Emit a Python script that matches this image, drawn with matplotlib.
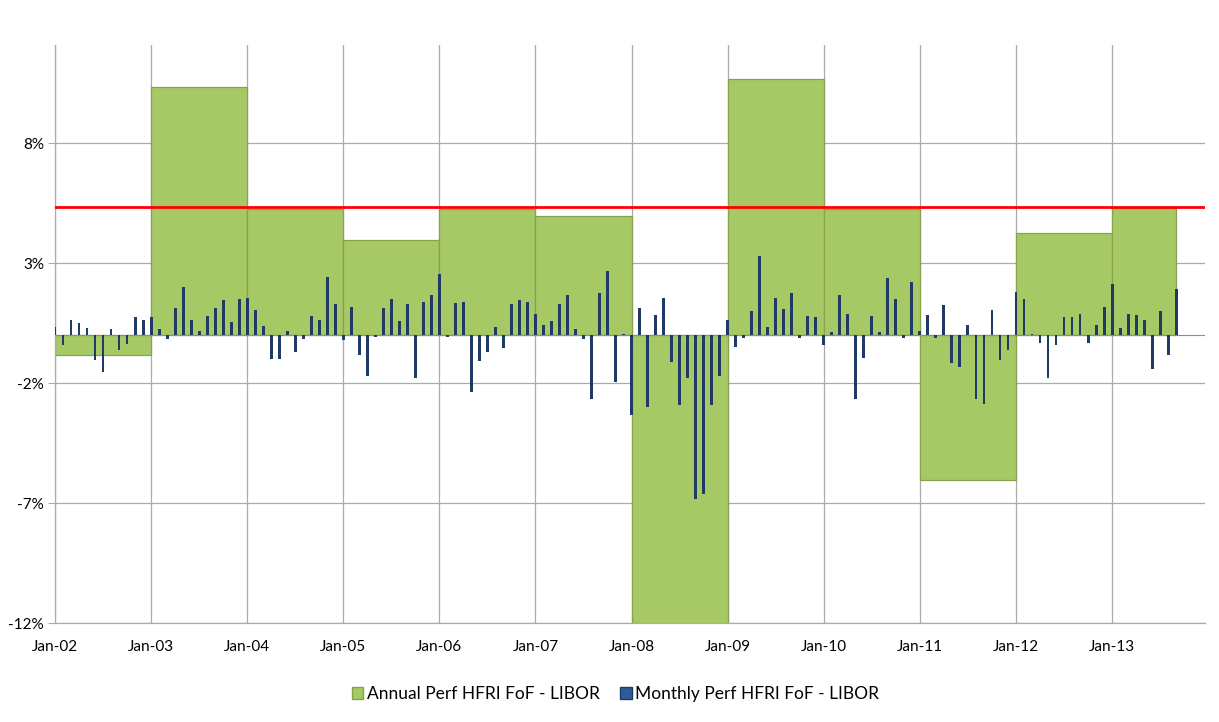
import matplotlib

matplotlib.use('Agg')
import matplotlib.pyplot as plt
import numpy as np
from matplotlib.patches import Patch

# annual excess return vs LIBOR (%), one block per calendar year
annual_years = [2002, 2003, 2004, 2005, 2006, 2007, 2008, 2009, 2010, 2011, 2012, 2013]
annual_perf = [-0.83, 10.33, 5.25, 3.96, 5.25, 4.96, -15.0, 10.7, 5.25, -6.04, 4.25, 5.3]

# monthly excess return vs LIBOR (%), Jan-02 .. Sep-13
monthly_perf = [
    0.33, -0.42, 0.65, 0.51, 0.32, -1.04, -1.54, 0.24, -0.63, -0.35, 0.75, 0.63,      # 2002
    0.76, 0.26, -0.15, 1.14, 2.03, 0.63, 0.17, 0.78, 1.14, 1.47, 0.57, 1.51,          # 2003
    1.54, 1.04, 0.40, -0.99, -1.01, 0.17, -0.71, -0.15, 0.78, 0.65, 2.42, 1.31,       # 2004
    -0.21, 1.18, -0.81, -1.71, -0.07, 1.14, 1.50, 0.58, 1.28, -1.79, 1.38, 1.67,      # 2005
    2.56, -0.07, 1.35, 1.40, -2.36, -1.08, -0.69, 0.35, -0.53, 1.28, 1.47, 1.38,      # 2006
    0.89, 0.42, 0.61, 1.31, 1.69, 0.26, -0.14, -2.65, 1.74, 2.68, -1.94, 0.07,        # 2007
    -3.33, 1.14, -3.00, 0.83, 1.56, -1.11, -2.90, -1.79, -6.82, -6.61, -2.93, -1.71,  # 2008
    0.65, -0.50, -0.10, 1.00, 3.29, 0.35, 1.53, 1.10, 1.76, -0.13, 0.81, 0.76,        # 2009
    -0.42, 0.15, 1.69, 0.90, -2.64, -0.94, 0.78, 0.13, 2.38, 1.50, -0.11, 2.22,       # 2010
    0.17, 0.83, -0.11, 1.24, -1.15, -1.33, 0.42, -2.68, -2.85, 1.07, -1.04, -0.61,    # 2011
    1.79, 1.50, 0.06, -0.32, -1.79, -0.42, 0.76, 0.74, 0.88, -0.32, 0.42, 1.19,       # 2012
    2.15, 0.28, 0.90, 0.83, 0.65, -1.43, 1.00, -0.82, 1.93,                           # 2013
]
hurdle = 5.33
y_ticks = [-12, -7, -2, 3, 8]
tick_labels = [f'Jan-{year % 100:02d}' for year in annual_years]

green = '#A6C865'
navy = '#1F3A63'
grid_color = '#ABABAB'

plt.rcParams['font.family'] = ['Lato', 'DejaVu Sans']

month_index = np.arange(len(monthly_perf))
last_month = month_index[-1]
year_start = np.array([(year - annual_years[0]) * 12 for year in annual_years])
year_end = np.minimum(year_start + 12, last_month)

fig = plt.figure(figsize=(12.19, 7.22), dpi=100)
axis = fig.add_axes([0.0451, 0.1371, 0.9434, 0.8006])

axis.bar(year_start, annual_perf, width=year_end - year_start, align='edge',
         color=green, edgecolor='#86A34C', linewidth=0.9, zorder=2)
axis.bar(month_index, monthly_perf, width=0.36, color=navy, zorder=3)
axis.axhline(0, color='#8C8C8C', linewidth=0.8, zorder=2.5)
axis.axhline(hurdle, color='#FF0000', linewidth=2, zorder=4)

axis.set_xlim(0, 143.6)
axis.set_ylim(-12, 12.1)
axis.set_yticks(y_ticks)
axis.set_yticklabels([f'{tick}%' for tick in y_ticks])
axis.set_xticks(year_start)
axis.set_xticklabels(tick_labels)
axis.grid(True, color=grid_color, linewidth=0.9, zorder=0)
axis.set_axisbelow(True)
for side in ('top', 'right'):
    axis.spines[side].set_visible(False)
for side in ('left', 'bottom'):
    axis.spines[side].set_color(grid_color)
    axis.spines[side].set_linewidth(0.9)
axis.tick_params(axis='y', length=5, color=grid_color, labelsize=11, pad=3)
axis.tick_params(axis='x', length=0, labelsize=11, pad=12)

handles = [Patch(facecolor=green, edgecolor='#86A34C', label='Annual Perf HFRI FoF - LIBOR'),
           Patch(facecolor='#2E5C9A', edgecolor=navy, label='Monthly Perf HFRI FoF - LIBOR')]
fig.legend(handles=handles, loc='center', bbox_to_anchor=(0.505, 0.039), ncol=2, frameon=False,
           fontsize=12.5, handlelength=0.65, handleheight=0.65, handletextpad=0.2, columnspacing=1.2)

fig.savefig('out.png', dpi=100)
plt.close(fig)
